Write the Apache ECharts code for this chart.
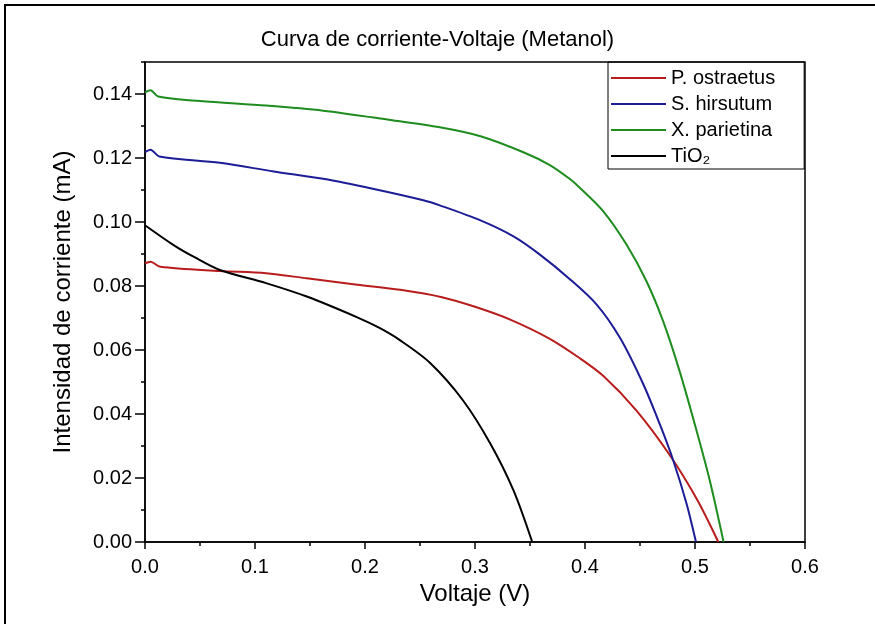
<!DOCTYPE html>
<html>
<head>
<meta charset="utf-8">
<script src="https://cdn.jsdelivr.net/npm/echarts@6/dist/echarts.min.js"></script>
<style>
  html, body { margin: 0; padding: 0; background: #fff; }
  #chart { width: 875px; height: 624px; }
</style>
</head>
<body>
<div id="chart"></div>
<script>
var vPost = [0, 0.005, 0.014, 0.068, 0.11, 0.147, 0.193, 0.232, 0.27, 0.3, 0.332, 0.368, 0.395, 0.417, 0.447, 0.477, 0.5015, 0.5212];
var iPost = [0.0871, 0.0876, 0.086, 0.0847, 0.084, 0.0824, 0.0804, 0.0788, 0.0765, 0.0735, 0.0695, 0.0635, 0.0575, 0.0518, 0.041, 0.0272, 0.0135, 0];

var vShir = [0, 0.005, 0.013, 0.068, 0.117, 0.162, 0.207, 0.253, 0.268, 0.305, 0.335, 0.359, 0.386, 0.4106, 0.4318, 0.453, 0.468, 0.4803, 0.4924, 0.5009];
var iShir = [0.1218, 0.1226, 0.1205, 0.1185, 0.1158, 0.1135, 0.1104, 0.1068, 0.1052, 0.1005, 0.0955, 0.0898, 0.0822, 0.0742, 0.0638, 0.0493, 0.0368, 0.0254, 0.0119, 0];

var vXpar = [0, 0.005, 0.012, 0.05, 0.11, 0.162, 0.223, 0.268, 0.305, 0.344, 0.368, 0.386, 0.395, 0.417, 0.438, 0.456, 0.471, 0.486, 0.5015, 0.5136, 0.526];
var iXpar = [0.1405, 0.1412, 0.1392, 0.1378, 0.1364, 0.1348, 0.1319, 0.1296, 0.1268, 0.1218, 0.1178, 0.1135, 0.1108, 0.1032, 0.0928, 0.0814, 0.069, 0.0534, 0.0347, 0.019, 0];

var vTio2 = [0, 0.026, 0.045, 0.068, 0.11, 0.147, 0.193, 0.2136, 0.232, 0.259, 0.289, 0.314, 0.335, 0.352];
var iTio2 = [0.099, 0.0928, 0.089, 0.085, 0.0809, 0.0767, 0.0702, 0.0668, 0.063, 0.056, 0.0443, 0.0307, 0.0161, 0];

var nombres = ['P. ostraetus', 'S. hirsutum', 'X. parietina', 'TiO₂'];
var colores = ['#b81c1c', '#1c1c96', '#1e8c1e', '#000000'];

function pares(v, i) {
  return v.map(function (x, k) { return [x, i[k]]; });
}
var datos = [pares(vPost, iPost), pares(vShir, iShir), pares(vXpar, iXpar), pares(vTio2, iTio2)];

var fuente = 'Liberation Sans';
var myChart = echarts.init(document.getElementById('chart'));

myChart.setOption({
  animation: false,
  textStyle: { fontFamily: fuente },
  title: {
    text: 'Curva de corriente-Voltaje (Metanol)',
    left: 'center',
    top: 24,
    textStyle: { fontFamily: fuente, fontSize: 22, fontWeight: 'normal', color: '#000' }
  },
  legend: {
    orient: 'vertical',
    left: 608,
    top: 62,
    padding: [3, 29, 0, 3],
    itemGap: 0,
    itemWidth: 55,
    itemHeight: 2,
    icon: 'rect',
    borderColor: '#000',
    borderWidth: 1,
    textStyle: { fontFamily: fuente, fontSize: 20, color: '#000', lineHeight: 26 },
    data: nombres
  },
  graphic: [{
    type: 'rect',
    shape: { x: 5, y: 5, width: 900, height: 700 },
    style: { fill: 'none', stroke: '#000', lineWidth: 2 },
    silent: true
  }],
  grid: {
    left: 145, top: 62, width: 660, height: 480,
    show: true, borderColor: '#000', borderWidth: 1.5
  },
  xAxis: {
    type: 'value', min: 0, max: 0.6, interval: 0.1,
    name: 'Voltaje (V)', nameLocation: 'middle', nameGap: 36,
    nameTextStyle: { fontFamily: fuente, fontSize: 24, color: '#000' },
    axisLine: { show: true, lineStyle: { color: '#000', width: 1.5 } },
    axisTick: { show: true, length: 7, lineStyle: { color: '#000', width: 1.5 } },
    minorTick: { show: true, splitNumber: 2, length: 4, lineStyle: { color: '#000', width: 1.5 } },
    splitLine: { show: false },
    axisLabel: { fontSize: 20, color: '#000', margin: 15, formatter: function (v) { return v.toFixed(1); } }
  },
  yAxis: [{
    type: 'value', min: 0, max: 0.15, interval: 0.02,
    name: 'Intensidad de corriente (mA)', nameLocation: 'middle', nameGap: 70,
    nameTextStyle: { fontFamily: fuente, fontSize: 24, color: '#000' },
    axisLine: { show: true, lineStyle: { color: '#000', width: 1.5 } },
    axisTick: { show: true, length: 10, lineStyle: { color: '#000', width: 1.5 } },
    splitLine: { show: false },
    axisLabel: { fontSize: 20, color: '#000', margin: 13, showMaxLabel: false,
      formatter: function (v) { return v.toFixed(2); } }
  }, {
    // solo marcas menores cada 0.01
    type: 'value', min: 0, max: 0.15, interval: 0.01, position: 'left',
    axisLine: { show: false },
    axisTick: { show: true, length: 4, lineStyle: { color: '#000', width: 1.5 } },
    axisLabel: { show: false },
    splitLine: { show: false }
  }],
  series: datos.map(function (d, k) {
    return {
      name: nombres[k],
      type: 'line',
      data: d,
      yAxisIndex: 0,
      smooth: 0.3,
      showSymbol: false,
      symbol: 'none',
      itemStyle: { color: colores[k] },
      lineStyle: { color: colores[k], width: 2 }
    };
  })
});
</script>
</body>
</html>
